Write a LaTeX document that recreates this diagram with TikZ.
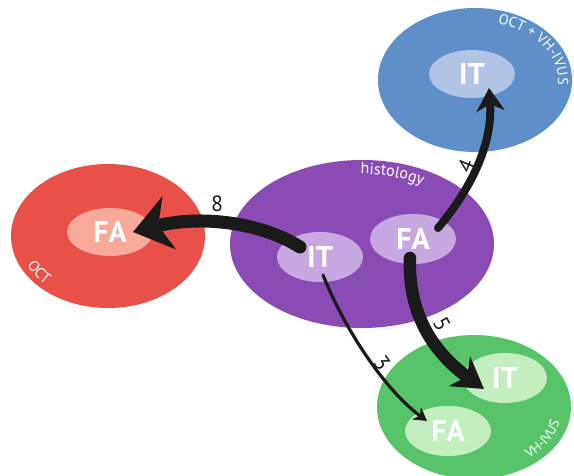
\documentclass[tikz,border=0pt]{standalone}
\usepackage{fontspec}
\setmainfont{PT Sans}
\usetikzlibrary{shapes.geometric,arrows.meta,decorations.text}
\definecolor{blueC}{RGB}{94,143,200}
\definecolor{blueL}{RGB}{178,196,230}
\definecolor{redC}{RGB}{232,80,72}
\definecolor{redL}{RGB}{250,170,152}
\definecolor{purC}{RGB}{138,76,180}
\definecolor{purL}{RGB}{200,168,225}
\definecolor{grnC}{RGB}{88,196,106}
\definecolor{grnL}{RGB}{196,238,192}
\definecolor{arrowC}{RGB}{26,26,26}
\begin{document}
\begin{tikzpicture}[x=1pt,y=-1pt,
  bigell/.style={ellipse, inner sep=0pt, draw=none, minimum width=194pt, minimum height=144pt},
  smallell/.style={ellipse, inner sep=0pt, draw=none, text=white,
    font=\fontsize{30}{30}\selectfont\bfseries, minimum width=86pt, minimum height=50pt},
  conn/.style={draw=arrowC, line cap=round},
  num/.style={font=\fontsize{22}{22}\selectfont, text=arrowC, inner sep=0pt}]
\useasboundingbox (0,0) rectangle (574,476);

% big ellipses
\node[bigell, fill=blueC] (octvh) at (475,80) {};
\node[bigell, fill=redC] (oct) at (108,236) {};
\node[bigell, fill=purC, minimum width=264pt, minimum height=168pt] (hist) at (362,244) {};
\node[bigell, fill=grnC] (vhivus) at (474,407) {};

% small ellipses
\node[smallell, fill=blueL, minimum height=48pt] (bIT) at (472,74) {IT};
\node[smallell, fill=redL, minimum height=48pt] (rFA) at (110,232) {FA};
\node[smallell, fill=purL] (pIT) at (320,257) {IT};
\node[smallell, fill=purL] (pFA) at (413,239) {FA};
\node[smallell, fill=grnL, minimum width=84pt] (gIT) at (505,378) {IT};
\node[smallell, fill=grnL] (gFA) at (448,431) {FA};

% curved labels
\path[decorate, decoration={text along path, text color=white, text align=center,
  text={|\fontsize{14.5}{16}\selectfont|OCT + VH-IVUS}}]
  (octvh.center) ++(-78:83 and 59) arc[start angle=-78, end angle=10, x radius=83, y radius=59];
\path[decorate, decoration={text along path, text color=white, text align=center,
  text={|\fontsize{16}{18}\selectfont|histology}}]
  (hist.center) ++(-102:110 and 70) arc[start angle=-102, end angle=-44, x radius=110, y radius=70];
\path[decorate, decoration={text along path, text color=white, text align=center,
  text={|\fontsize{15}{17}\selectfont|OCT}}]
  (oct.center) ++(-192:90 and 67) arc[start angle=-192, end angle=-238, x radius=90, y radius=67];
\path[decorate, decoration={text along path, text color=white, text align=center,
  text={|\fontsize{13.5}{15}\selectfont|VH-IVUS}}]
  (vhivus.center) ++(60:88 and 66) arc[start angle=60, end angle=2, x radius=88, y radius=66];

% connectors
\draw[conn, line width=13pt, -{Stealth[length=37pt,width=54pt,inset=11pt]}]
  ([shift={(-20,-10)}]pIT.center) .. controls (260,222) and (200,215) .. ([shift={(23,0)}]rFA.center);
\draw[conn, line width=8pt, -{Stealth[length=23pt,width=28pt,inset=7pt]}]
  ([shift={(25,-11)}]pFA.center) .. controls (470,190) and (493,145) .. ([shift={(17,14)}]bIT.center);
\draw[conn, line width=12.5pt, -{Stealth[length=30pt,width=36pt,inset=9pt]}]
  ([shift={(-3,19)}]pFA.center) .. controls (408,310) and (430,350) .. ([shift={(-21,11)}]gIT.center);
\draw[conn, line width=3.2pt, -{Stealth[length=13pt,width=15pt,inset=4pt]}]
  ([shift={(3,18)}]pIT.center) .. controls (345,330) and (385,390) .. ([shift={(-21,-10)}]gFA.center);

% numbers
\node[num] (n8) at (217,204) {8};
\node[num, rotate=68] (n4) at (466,166) {4};
\node[num, rotate=-61] (n5) at (442,324) {5};
\node[num, rotate=-55] (n3) at (382,363) {3};
\end{tikzpicture}
\end{document}
